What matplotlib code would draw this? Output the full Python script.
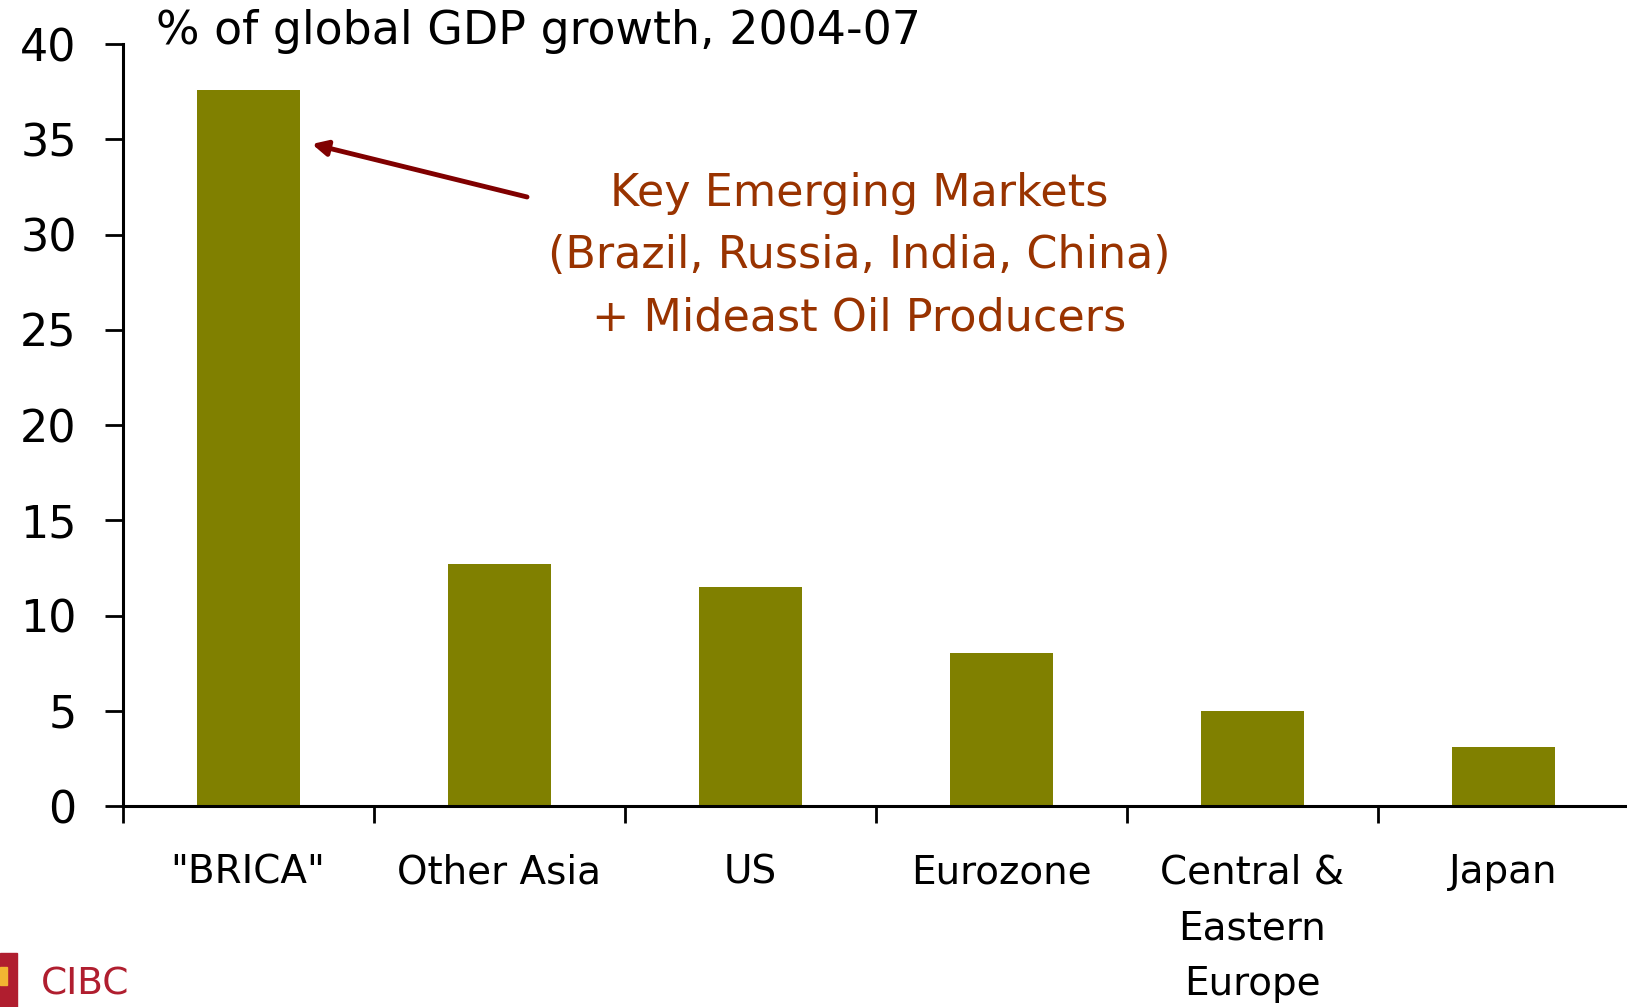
import numpy as np
import matplotlib
matplotlib.use("Agg")
import matplotlib.pyplot as plt
from matplotlib.patches import Rectangle

regions = ['"BRICA"', "Other Asia", "US", "Eurozone", "Central &\nEastern\nEurope", "Japan"]
share = [37.6, 12.7, 11.5, 8.05, 5.0, 3.1]
yticks = [0, 5, 10, 15, 20, 25, 30, 35, 40]

olive = "#808000"
rust = "#993300"

fig = plt.figure(figsize=(16.27, 10.07), dpi=100)
ax = fig.add_axes([0.0754, 0.1996, 0.9256, 0.7567])

x = np.arange(len(regions))
ax.bar(x, share, width=0.41, color=olive)

ax.set_xlim(-0.5, len(regions) - 0.5)
ax.set_ylim(0, 40)
ax.set_yticks(yticks)
ax.set_yticklabels([str(v) for v in yticks], fontsize=32)
ax.set_xticks(x)
ax.set_xticklabels(regions, fontsize=28, linespacing=1.6)
ax.set_xticks(np.arange(-0.5, len(regions), 1), minor=True)
ax.tick_params(axis="x", which="major", length=0, pad=34)
ax.tick_params(axis="x", which="minor", length=12, width=2)
ax.tick_params(axis="y", length=13, width=2, pad=20)

for side in ["top", "right"]:
    ax.spines[side].set_visible(False)
for side in ["left", "bottom"]:
    ax.spines[side].set_linewidth(2.2)

fig.text(0.096, 0.969, "% of global GDP growth, 2004-07", fontsize=33,
         ha="left", va="center")

ax.annotate("", xy=(0.254, 34.75), xytext=(1.111, 31.97),
            arrowprops=dict(arrowstyle="-|>,head_length=0.9,head_width=0.45",
                            color="#800000", lw=3.5, shrinkA=0, shrinkB=0))
ax.text(2.434, 28.9,
        "Key Emerging Markets\n(Brazil, Russia, India, China)\n+ Mideast Oil Producers",
        fontsize=32, color=rust, ha="center", va="center", linespacing=1.56)

# CIBC logo, bottom-left corner
fig.patches.append(Rectangle((0, 0), 0.0105, 0.054, transform=fig.transFigure,
                             color="#b01e2f", zorder=5))
fig.patches.append(Rectangle((0.0, 0.022), 0.004, 0.018, transform=fig.transFigure,
                             color="#f2b632", zorder=6))
fig.text(0.025, 0.022, "CIBC", fontsize=27, color="#b01e2f",
         ha="left", va="center", family="Liberation Sans Narrow")

fig.savefig("out.png", dpi=100)
